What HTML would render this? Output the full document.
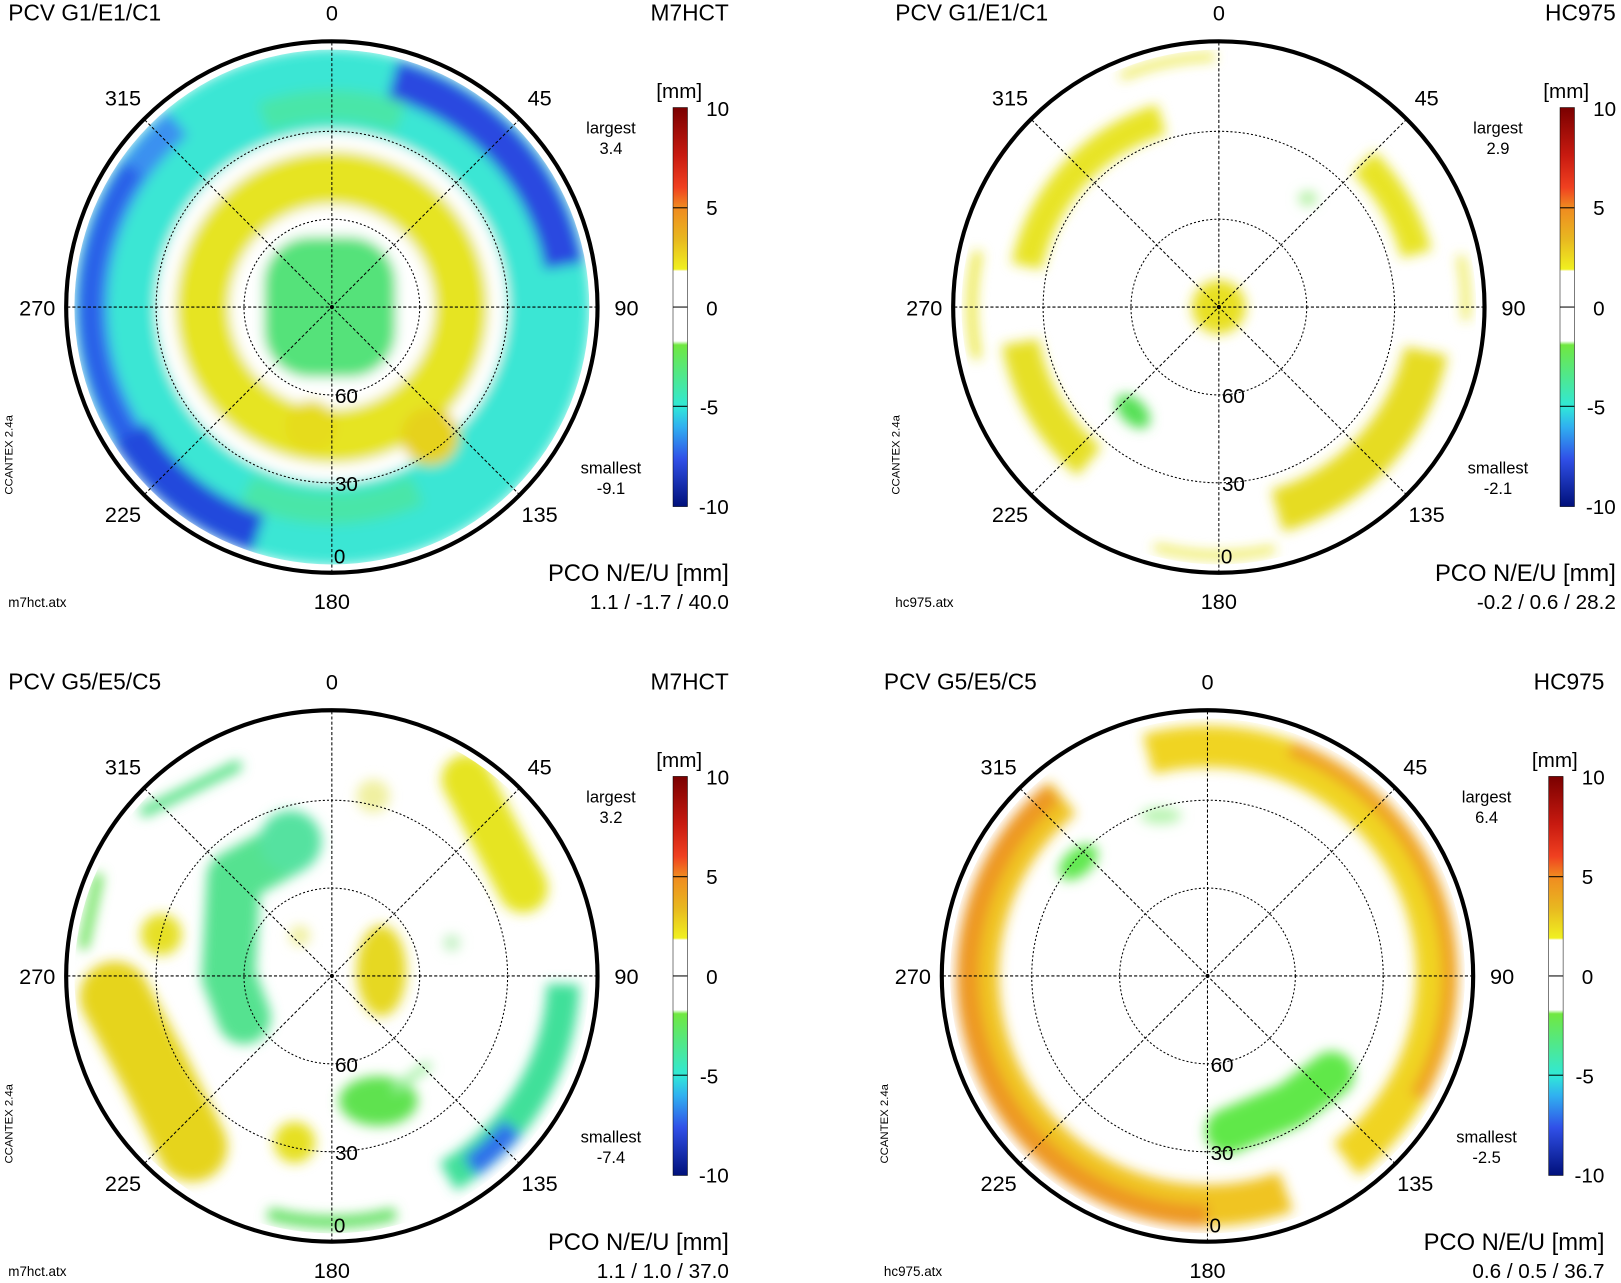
<!DOCTYPE html>
<html><head><meta charset="utf-8"><style>
html,body{margin:0;padding:0;background:#fff;}
svg{display:block;}
text{font-family:"Liberation Sans",sans-serif;fill:#000;}
</style></head><body>
<svg width="1621" height="1283" viewBox="0 0 1568 1241" preserveAspectRatio="none" xmlns="http://www.w3.org/2000/svg">
<defs>
<filter id="bl" x="-20%" y="-20%" width="140%" height="140%"><feGaussianBlur stdDeviation="6"/></filter>
<clipPath id="cp"><circle cx="0" cy="0" r="249"/></clipPath>
<linearGradient id="cb" x1="0" y1="0" x2="0" y2="1">
<stop offset="0" stop-color="#7a0000"/><stop offset="0.12" stop-color="#c81a10"/><stop offset="0.2" stop-color="#f04020"/>
<stop offset="0.25" stop-color="#f08a20"/><stop offset="0.33" stop-color="#e8b820"/><stop offset="0.405" stop-color="#f0f020"/>
<stop offset="0.41" stop-color="#ffffff"/><stop offset="0.585" stop-color="#ffffff"/><stop offset="0.595" stop-color="#70e840"/>
<stop offset="0.75" stop-color="#30e8d8"/><stop offset="0.8" stop-color="#30b0f0"/><stop offset="0.88" stop-color="#3050e8"/>
<stop offset="1" stop-color="#00107a"/>
</linearGradient>
<g id="grid">
<line x1="-256" y1="0" x2="256" y2="0" stroke="#000" stroke-width="1" stroke-dasharray="3,2"/>
<line x1="0" y1="-256" x2="0" y2="256" stroke="#000" stroke-width="1" stroke-dasharray="3,2"/>
<line x1="-181" y1="-181" x2="181" y2="181" stroke="#000" stroke-width="1" stroke-dasharray="3,2"/>
<line x1="-181" y1="181" x2="181" y2="-181" stroke="#000" stroke-width="1" stroke-dasharray="3,2"/>
<circle r="85" fill="none" stroke="#000" stroke-width="1" stroke-dasharray="2,2"/>
<circle r="170" fill="none" stroke="#000" stroke-width="1" stroke-dasharray="2,2"/>
<circle r="257" fill="none" stroke="#000" stroke-width="4"/>
<circle r="2" fill="#000"/>
<g font-size="21" text-anchor="middle">
<text x="-202" y="-195">315</text><text x="201" y="-195">45</text>
<text x="-285" y="8">270</text><text x="285" y="8">90</text>
<text x="-202" y="208">225</text><text x="201" y="208">135</text>
<text x="0" y="292">180</text><text x="0" y="-277">0</text>
</g>
<g font-size="20"><text x="3" y="93">60</text><text x="3" y="178">30</text><text x="2" y="248">0</text></g>
<rect x="330" y="-193" width="14" height="386" fill="url(#cb)" stroke="#000" stroke-width="0.5"/>
<line x1="330" y1="-96" x2="344" y2="-96" stroke="#000"/><line x1="330" y1="0" x2="344" y2="0" stroke="#000"/><line x1="330" y1="96" x2="344" y2="96" stroke="#000"/>
<g font-size="20"><text x="362" y="-185">10</text><text x="362" y="-89">5</text><text x="362" y="8">0</text><text x="356" y="104">-5</text><text x="355" y="200">-10</text></g>
<text x="336" y="-202" font-size="20" text-anchor="middle">[mm]</text>
<g font-size="16" text-anchor="middle"><text x="270" y="-168">largest</text><text x="270" y="161">smallest</text></g>
<text x="-309" y="143" font-size="11" transform="rotate(-90 -309 143)" text-anchor="middle" fill="#333">CCANTEX 2.4a</text>
<text x="384" y="265" font-size="23" text-anchor="end">PCO N/E/U [mm]</text>
</g>
</defs>

<!-- TL -->
<g transform="translate(321,297)">
<g clip-path="url(#cp)"><g filter="url(#bl)">
<circle r="250" fill="#3ae6d4"/>
<circle r="228" fill="none" stroke="#2a4ae0" stroke-width="38" pathLength="360" stroke-dasharray="65 360" transform="rotate(-75)"/>
<circle r="232" fill="none" stroke="#3a90f0" stroke-width="30" pathLength="360" stroke-dasharray="100 360" transform="rotate(130)"/>
<circle r="235" fill="none" stroke="#2a60e8" stroke-width="24" pathLength="360" stroke-dasharray="70 360" transform="rotate(145)"/>
<circle r="230" fill="none" stroke="#2448dc" stroke-width="38" pathLength="360" stroke-dasharray="40 360" transform="rotate(108)"/>
<circle r="195" fill="none" stroke="#48e6a8" stroke-width="30" pathLength="360" stroke-dasharray="40 360" transform="rotate(-110)"/>
<circle r="195" fill="none" stroke="#48e6a8" stroke-width="30" pathLength="360" stroke-dasharray="50 360" transform="rotate(65)"/>
<circle r="170" fill="#fff"/>
<circle r="125" fill="none" stroke="#e6e420" stroke-width="52"/>
<circle cx="95" cy="125" r="28" fill="#e6d21e"/>
<circle cx="-20" cy="115" r="25" fill="#e6dc1e"/>
<rect x="-66" y="-68" width="128" height="136" rx="45" fill="#55e27a"/>
</g></g>
<use href="#grid"/>
<text x="-313" y="-277" font-size="22">PCV G1/E1/C1</text>
<text x="384" y="-277" font-size="22" text-anchor="end">M7HCT</text>
<text x="270" y="-148" font-size="16" text-anchor="middle">3.4</text>
<text x="270" y="181" font-size="16" text-anchor="middle">-9.1</text>
<text x="384" y="292" font-size="20" text-anchor="end">1.1 / -1.7 / 40.0</text>
<text x="-313" y="290" font-size="13">m7hct.atx</text>
</g>

<!-- TR -->
<g transform="translate(1179,297)">
<g clip-path="url(#cp)"><g filter="url(#bl)">
<circle r="26" fill="#e8e020"/>
<circle r="190" fill="none" stroke="#e8e428" stroke-width="30" pathLength="360" stroke-dasharray="61 360" transform="rotate(192)"/>
<circle r="198" fill="none" stroke="#e8e428" stroke-width="30" pathLength="360" stroke-dasharray="30 360" transform="rotate(-45)"/>
<circle r="205" fill="none" stroke="#e6dc22" stroke-width="42" pathLength="360" stroke-dasharray="62 360" transform="rotate(12)"/>
<circle r="195" fill="none" stroke="#e6e028" stroke-width="36" pathLength="360" stroke-dasharray="40 360" transform="rotate(130)"/>
<circle r="242" fill="none" stroke="#e8e428" stroke-width="6" pathLength="360" stroke-dasharray="22 360" transform="rotate(-113)"/>
<circle r="240" fill="none" stroke="#e8e428" stroke-width="6" pathLength="360" stroke-dasharray="28 360" transform="rotate(77)"/>
<circle r="239" fill="none" stroke="#e8e428" stroke-width="8" pathLength="360" stroke-dasharray="25 360" transform="rotate(168)"/>
<circle r="239" fill="none" stroke="#e8e428" stroke-width="6" pathLength="360" stroke-dasharray="15 360" transform="rotate(-12)"/>
<ellipse cx="-83" cy="101" rx="20" ry="12" transform="rotate(45 -83 101)" fill="#55e055"/>
<ellipse cx="86" cy="-105" rx="9" ry="7" fill="#b0f0a0"/>
</g></g>
<use href="#grid"/>
<text x="-313" y="-277" font-size="22">PCV G1/E1/C1</text>
<text x="384" y="-277" font-size="22" text-anchor="end">HC975</text>
<text x="270" y="-148" font-size="16" text-anchor="middle">2.9</text>
<text x="270" y="181" font-size="16" text-anchor="middle">-2.1</text>
<text x="384" y="292" font-size="20" text-anchor="end">-0.2 / 0.6 / 28.2</text>
<text x="-313" y="290" font-size="13">hc975.atx</text>
</g>

<!-- BL -->
<g transform="translate(321,944)">
<g clip-path="url(#cp)"><g filter="url(#bl)">
<line x1="-181" y1="-159" x2="-92" y2="-203" stroke="#50e080" stroke-width="10" stroke-linecap="round"/>
<line x1="-226" y1="-95" x2="-240" y2="-30" stroke="#60e050" stroke-width="9" stroke-linecap="round"/>
<path d="M -210 20 L -170 95 L -135 165" fill="none" stroke="#e6d41e" stroke-width="68" stroke-linecap="round"/>
<circle cx="-165" cy="-40" r="20" fill="#e6e028"/>
<path d="M -40 -125 L -95 -95 L -100 0 L -85 40" fill="none" stroke="#55e290" stroke-width="52" stroke-linecap="round" stroke-linejoin="round"/>
<ellipse cx="-40" cy="-130" rx="30" ry="30" fill="#55e2a0"/>
<ellipse cx="48" cy="-5" rx="24" ry="44" fill="#e6d820"/>
<path d="M 130 -190 L 185 -85" fill="none" stroke="#e6e420" stroke-width="48" stroke-linecap="round"/>
<circle cx="40" cy="-174" r="16" fill="#f0f0a0"/>
<ellipse cx="45" cy="121" rx="38" ry="24" fill="#5ee250"/>
<line x1="60" y1="110" x2="95" y2="85" stroke="#a0f0a0" stroke-width="8"/>
<circle cx="-36" cy="161" r="20" fill="#e6e020"/>
<circle r="224" fill="none" stroke="#40e09a" stroke-width="32" pathLength="360" stroke-dasharray="58 360" transform="rotate(2)"/>
<circle r="228" fill="none" stroke="#2e70ea" stroke-width="22" pathLength="360" stroke-dasharray="14 360" transform="rotate(40)"/>
<circle r="238" fill="none" stroke="#60e060" stroke-width="12" pathLength="360" stroke-dasharray="30 360" transform="rotate(75)"/>
<circle cx="116" cy="-32" r="8" fill="#c0f0c0"/>
<circle cx="-31" cy="-39" r="10" fill="#f0f0a0"/>
</g></g>
<use href="#grid"/>
<text x="-313" y="-277" font-size="22">PCV G5/E5/C5</text>
<text x="384" y="-277" font-size="22" text-anchor="end">M7HCT</text>
<text x="270" y="-148" font-size="16" text-anchor="middle">3.2</text>
<text x="270" y="181" font-size="16" text-anchor="middle">-7.4</text>
<text x="384" y="292" font-size="20" text-anchor="end">1.1 / 1.0 / 37.0</text>
<text x="-313" y="290" font-size="13">m7hct.atx</text>
</g>

<!-- BR -->
<g transform="translate(1168,944)">
<g clip-path="url(#cp)"><g filter="url(#bl)">
<circle r="222" fill="none" stroke="#f0d424" stroke-width="40" pathLength="360" stroke-dasharray="158 360" transform="rotate(-105)"/>
<circle r="222" fill="none" stroke="#f0c424" stroke-width="40" pathLength="360" stroke-dasharray="161 360" transform="rotate(70)"/>
<circle r="234" fill="none" stroke="#ee9020" stroke-width="16" opacity="0.7" pathLength="360" stroke-dasharray="100 360" transform="rotate(-70)"/>
<circle r="232" fill="none" stroke="#ec8a20" stroke-width="22" opacity="0.75" pathLength="360" stroke-dasharray="140 360" transform="rotate(90)"/>
<path d="M 20 150 L 80 125 L 120 95" fill="none" stroke="#60e848" stroke-width="44" stroke-linecap="round"/>
<ellipse cx="-125" cy="-110" rx="22" ry="13" transform="rotate(-40 -125 -110)" fill="#60e850"/>
<ellipse cx="-45" cy="-155" rx="20" ry="8" fill="#b8f4b0"/>
</g></g>
<use href="#grid"/>
<text x="-313" y="-277" font-size="22">PCV G5/E5/C5</text>
<text x="384" y="-277" font-size="22" text-anchor="end">HC975</text>
<text x="270" y="-148" font-size="16" text-anchor="middle">6.4</text>
<text x="270" y="181" font-size="16" text-anchor="middle">-2.5</text>
<text x="384" y="292" font-size="20" text-anchor="end">0.6 / 0.5 / 36.7</text>
<text x="-313" y="290" font-size="13">hc975.atx</text>
</g>
</svg>
</body></html>
